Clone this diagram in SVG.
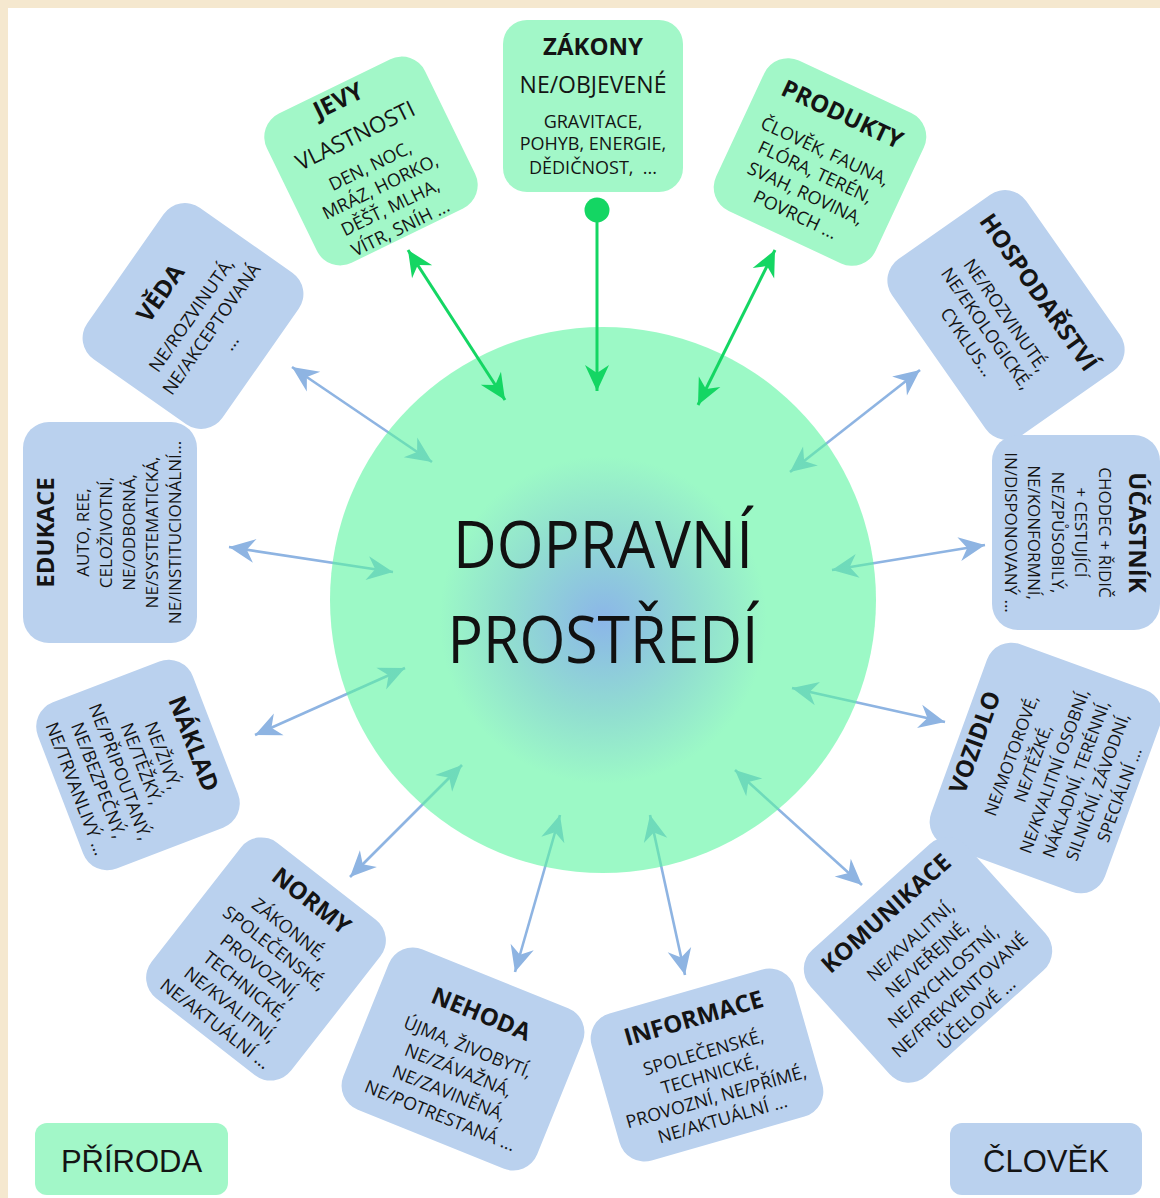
<svg xmlns="http://www.w3.org/2000/svg" width="1160" height="1198" viewBox="0 0 1160 1198">
<defs>
<style>
.t{font-family:"Open Sans","Liberation Sans",sans-serif;font-size:18px;fill:#141414;text-anchor:middle}
.s{font-size:17px}
.h{font-weight:700;font-size:24px}
.g{fill:#a2f7c8}
.b{fill:#bad1ee}
.lb{stroke:#8eb4e2;stroke-width:2.6;fill:none}
.lg{stroke:#14d663;stroke-width:3;fill:none}
.leg{font-family:"Liberation Sans",Arial,sans-serif;font-size:31px;fill:#141414;text-anchor:middle}
.big{font-family:"Open Sans","Liberation Sans",sans-serif;font-size:66px;fill:#111;text-anchor:middle}
</style>
<marker id="ab" viewBox="-28 -14 30 28" refX="0" refY="0" markerWidth="30" markerHeight="28" markerUnits="userSpaceOnUse" orient="auto-start-reverse"><path d="M0 0 L-26 -12 L-18 0 L-26 12 Z" fill="#8eb4e2"/></marker>
<marker id="ag" viewBox="-28 -14 30 28" refX="0" refY="0" markerWidth="30" markerHeight="28" markerUnits="userSpaceOnUse" orient="auto-start-reverse"><path d="M0 0 L-26 -12 L-18 0 L-26 12 Z" fill="#14d663"/></marker>
<radialGradient id="cg" gradientUnits="userSpaceOnUse" cx="603" cy="620" r="273">
<stop offset="0" stop-color="#3e85d9"/>
<stop offset="0.35" stop-color="#48c8b1"/>
<stop offset="0.6" stop-color="#5af5a0"/>
<stop offset="1" stop-color="#5af5a0"/>
</radialGradient>
</defs>
<rect x="0" y="0" width="1160" height="1198" fill="#f5e8cf"/>
<rect x="8" y="8" width="1152" height="1190" fill="#ffffff"/>

<g id="connectors-blue" class="connectors">
<line class="lb" x1="292" y1="367" x2="432" y2="462" marker-start="url(#ab)" marker-end="url(#ab)"/>
<line class="lb" x1="229" y1="547" x2="393" y2="572" marker-start="url(#ab)" marker-end="url(#ab)"/>
<line class="lb" x1="255" y1="735" x2="405" y2="668" marker-start="url(#ab)" marker-end="url(#ab)"/>
<line class="lb" x1="350" y1="877" x2="462" y2="765" marker-start="url(#ab)" marker-end="url(#ab)"/>
<line class="lb" x1="515" y1="972" x2="560" y2="815" marker-start="url(#ab)" marker-end="url(#ab)"/>
<line class="lb" x1="685" y1="975" x2="650" y2="815" marker-start="url(#ab)" marker-end="url(#ab)"/>
<line class="lb" x1="862" y1="885" x2="735" y2="770" marker-start="url(#ab)" marker-end="url(#ab)"/>
<line class="lb" x1="945" y1="722" x2="792" y2="688" marker-start="url(#ab)" marker-end="url(#ab)"/>
<line class="lb" x1="985" y1="545" x2="832" y2="570" marker-start="url(#ab)" marker-end="url(#ab)"/>
<line class="lb" x1="920" y1="370" x2="790" y2="472" marker-start="url(#ab)" marker-end="url(#ab)"/>
</g>

<g id="node-center">
<circle cx="603" cy="600" r="273" fill="url(#cg)" opacity="0.6"/>
<text class="big" x="603" y="568" textLength="300" lengthAdjust="spacingAndGlyphs">DOPRAVNÍ</text>
<text class="big" x="603" y="663" textLength="311" lengthAdjust="spacingAndGlyphs">PROSTŘEDÍ</text>
</g>

<g id="connectors-green" class="connectors">
<line class="lg" x1="408" y1="250" x2="505" y2="400" marker-start="url(#ag)" marker-end="url(#ag)"/>
<line class="lg" x1="775" y1="250" x2="698" y2="405" marker-start="url(#ag)" marker-end="url(#ag)"/>
<line class="lg" x1="597" y1="210" x2="597" y2="391" marker-end="url(#ag)"/>
<circle cx="597" cy="210" r="12.5" fill="#14d663"/>
</g>

<g id="node-zakony">
<rect class="g" x="503" y="20" width="180" height="172" rx="24"/>
<text class="t h" x="593" y="55">ZÁKONY</text>
<text class="t" x="593" y="93" style="font-size:23px">NE/OBJEVENÉ</text>
<text class="t" x="593" y="128">GRAVITACE,</text>
<text class="t" x="593" y="150">POHYB, ENERGIE,</text>
<text class="t" x="593" y="174">DĚDIČNOST,&#160; ...</text>
</g>

<g id="node-jevy" transform="translate(371 161) rotate(-26)">
<rect class="g" x="-88" y="-83" width="176" height="166" rx="26"/>
<text class="t h" x="-3" y="-60.4">JEVY</text>
<text class="t" x="-3" y="-22" style="font-size:22.5px">VLASTNOSTI</text>
<text class="t" x="-3" y="10.4">DEN, NOC,</text>
<text class="t" x="-3" y="33.4">MRÁZ, HORKO,</text>
<text class="t" x="-3" y="56.4">DĚŠŤ, MLHA,</text>
<text class="t" x="-3" y="79.4">VÍTR, SNÍH ...</text>
</g>

<g id="node-produkty" transform="translate(820 162) rotate(25)">
<rect class="g" x="-88" y="-83" width="176" height="166" rx="26"/>
<text class="t h" x="0" y="-44.4">PRODUKTY</text>
<text class="t" x="0" y="-5.6">ČLOVĚK, FAUNA,</text>
<text class="t" x="0" y="17.4">FLÓRA, TERÉN,</text>
<text class="t" x="0" y="40.9">SVAH, ROVINA,</text>
<text class="t" x="0" y="64.4">POVRCH ...</text>
</g>

<g id="node-hospodarstvi" transform="translate(1006 315) rotate(55)">
<rect class="b" x="-107.5" y="-82" width="215" height="164" rx="26"/>
<text class="t h" x="0" y="-31.4">HOSPODAŘSTVÍ</text>
<text class="t" x="0" y="6.4">NE/ROZVINUTÉ,</text>
<text class="t" x="0" y="29.9">NE/EKOLOGICKÉ,</text>
<text class="t" x="0" y="53.4">CYKLUS...</text>
</g>

<g id="node-ucastnik" transform="translate(1076 532.5) rotate(90)">
<rect class="b" x="-97.5" y="-84" width="195" height="168" rx="26"/>
<text class="t h" x="0" y="-53.4">ÚČASTNÍK</text>
<text class="t s" x="0" y="-22.9">CHODEC + ŘIDIČ</text>
<text class="t s" x="0" y="0.6">+ CESTUJÍCÍ</text>
<text class="t s" x="0" y="24.1">NE/ZPŮSOBILÝ,</text>
<text class="t s" x="0" y="47.6">NE/KONFORMNÍ,</text>
<text class="t s" x="0" y="71.1">IN/DISPONOVANÝ ...</text>
</g>

<g id="node-vozidlo" transform="translate(1046 768) rotate(-70)">
<rect class="b" x="-107.5" y="-92.5" width="215" height="185" rx="26"/>
<text class="t h" x="0" y="-67.4">VOZIDLO</text>
<text class="t s" x="0" y="-30.9">NE/MOTOROVÉ,</text>
<text class="t s" x="0" y="-7.9">NE/TĚŽKÉ,</text>
<text class="t s" x="0" y="15.1">NE/KVALITNÍ OSOBNÍ,</text>
<text class="t s" x="0" y="38.1">NÁKLADNÍ, TERÉNNÍ,</text>
<text class="t s" x="0" y="61.1">SILNIČNÍ, ZÁVODNÍ,</text>
<text class="t s" x="0" y="84.1">SPECIÁLNÍ ...</text>
</g>

<g id="node-komunikace" transform="translate(928 960) rotate(-42)">
<rect class="b" x="-105" y="-85" width="210" height="170" rx="26"/>
<text class="t h" x="0" y="-54.4">KOMUNIKACE</text>
<text class="t" x="0" y="-19.6">NE/KVALITNÍ,</text>
<text class="t" x="0" y="4.9">NE/VEŘEJNÉ,</text>
<text class="t" x="0" y="29.4">NE/RYCHLOSTNÍ,</text>
<text class="t" x="0" y="53.9">NE/FREKVENTOVANÉ</text>
<text class="t" x="0" y="78.4">ÚČELOVÉ ...</text>
</g>

<g id="node-informace" transform="translate(707 1065) rotate(-16)">
<rect class="b" x="-105.5" y="-76.5" width="211" height="153" rx="26"/>
<text class="t h" x="0" y="-40.4">INFORMACE</text>
<text class="t" x="0" y="-6.6">SPOLEČENSKÉ,</text>
<text class="t" x="0" y="16.4">TECHNICKÉ,</text>
<text class="t" x="0" y="39.4">PROVOZNÍ, NE/PŘÍMÉ,</text>
<text class="t" x="0" y="62.4">NE/AKTUÁLNÍ ...</text>
</g>

<g id="node-nehoda" transform="translate(463 1059) rotate(22)">
<rect class="b" x="-104.5" y="-86.5" width="209" height="173" rx="26"/>
<text class="t h" x="0" y="-40.4">NEHODA</text>
<text class="t" x="0" y="-6.6">ÚJMA, ŽIVOBYTÍ,</text>
<text class="t" x="0" y="18.4">NE/ZÁVAŽNÁ,</text>
<text class="t" x="0" y="42.9">NE/ZAVINĚNÁ,</text>
<text class="t" x="0" y="67.4">NE/POTRESTANÁ ...</text>
</g>

<g id="node-normy" transform="translate(266 959) rotate(38)">
<rect class="b" x="-88.5" y="-98.5" width="177" height="197" rx="26"/>
<text class="t h" x="0" y="-65.4">NORMY</text>
<text class="t" x="0" y="-31.6">ZÁKONNÉ,</text>
<text class="t" x="0" y="-7.6">SPOLEČENSKÉ,</text>
<text class="t" x="0" y="16.4">PROVOZNÍ,</text>
<text class="t" x="0" y="40.4">TECHNICKÉ,</text>
<text class="t" x="0" y="64.4">NE/KVALITNÍ,</text>
<text class="t" x="0" y="88.4">NE/AKTUÁLNÍ ...</text>
</g>

<g id="node-naklad" transform="translate(138 765) rotate(69)">
<rect class="b" x="-89" y="-83" width="178" height="166" rx="26"/>
<text class="t h" x="0" y="-51.4">NÁKLAD</text>
<text class="t" x="0" y="-20.6">NE/ŽIVÝ,</text>
<text class="t" x="0" y="2.4">NE/TĚŽKÝ,</text>
<text class="t" x="0" y="25.4">NE/PŘIPOUTANÝ,</text>
<text class="t" x="0" y="48.4">NE/BEZPEČNÝ,</text>
<text class="t" x="0" y="72.4">NE/TRVANLIVÝ ...</text>
</g>

<g id="node-edukace" transform="translate(110 532.5) rotate(-90)">
<rect class="b" x="-110.5" y="-87" width="221" height="174" rx="26"/>
<text class="t h" x="0" y="-56.4">EDUKACE</text>
<text class="t s" x="0" y="-20.9">AUTO, REE,</text>
<text class="t s" x="0" y="2.1">CELOŽIVOTNÍ,</text>
<text class="t s" x="0" y="25.1">NE/ODBORNÁ,</text>
<text class="t s" x="0" y="48.1">NE/SYSTEMATICKÁ,</text>
<text class="t s" x="0" y="71.1">NE/INSTITUCIONÁLNÍ...</text>
</g>

<g id="node-veda" transform="translate(193 316) rotate(-55)">
<rect class="b" x="-92.5" y="-82.5" width="185" height="165" rx="26"/>
<text class="t h" x="0" y="-31.4">VĚDA</text>
<text class="t" x="0" y="4.4">NE/ROZVINUTÁ,</text>
<text class="t" x="0" y="28.9">NE/AKCEPTOVANÁ</text>
<text class="t" x="0" y="52">...</text>
</g>

<g id="legend-priroda">
<rect class="g" x="35" y="1123" width="193" height="72" rx="12"/>
<text class="leg" x="131.5" y="1172">PŘÍRODA</text>
</g>
<g id="legend-clovek">
<rect class="b" x="950" y="1123" width="192" height="72" rx="12"/>
<text class="leg" x="1046" y="1172">ČLOVĚK</text>
</g>
</svg>
